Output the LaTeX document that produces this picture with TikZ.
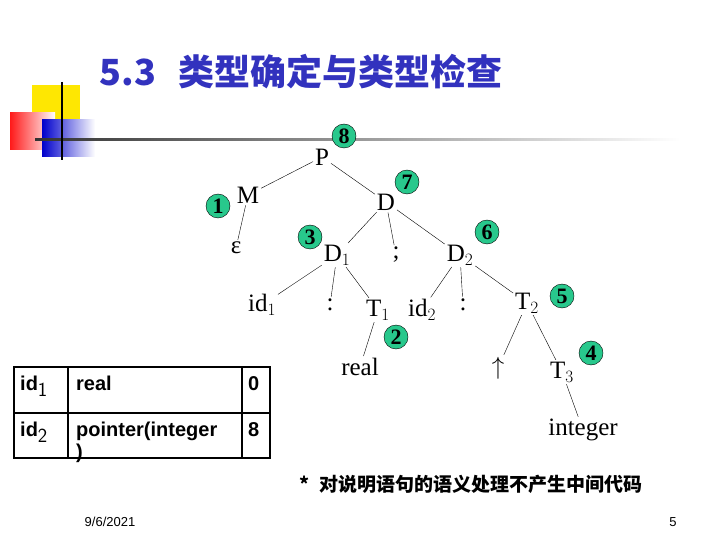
\documentclass[tikz,border=0pt]{standalone}
\usepackage{fontspec}
\setmainfont{Liberation Serif}
\newfontfamily\sansf{Liberation Sans}
\newfontfamily\cjk{Noto Sans CJK SC}
\usetikzlibrary{shadings}
\definecolor{ttl}{RGB}{50,50,190}
\definecolor{grn}{RGB}{40,200,140}
\begin{document}
\begin{tikzpicture}[x=1pt,y=-1pt,
  t/.style={font=\fontsize{25}{27}\selectfont, inner sep=1pt},
  num/.style={circle,draw=black,fill=grn,minimum size=24pt,inner sep=0pt,font=\fontsize{22}{22}\selectfont\bfseries},
  e/.style={thin, shorten <=1pt, shorten >=1pt},
  cell/.style={font=\sansf\bfseries\fontsize{20}{22}\selectfont, anchor=north west, inner sep=0pt}]
\useasboundingbox (0,0) rectangle (720,540);
% logo
\fill[yellow!90!orange] (32,85) rectangle (80,120);
\shade[left color=red!90, right color=white] (10,113) rectangle (55,150);
\shade[left color=blue!80!black, right color=white] (42,120) rectangle (95,157);
\shade[left color=black!80, right color=white] (35,139) rectangle (680,141);
\draw[line width=1.2pt] (62,82) -- (62,160);
% title
\node[font=\cjk\bfseries\fontsize{36}{38}\selectfont, text=ttl, anchor=west] (title) at (96,72) {5.3\hspace{22pt}类型确定与类型检查};
% tree
\node[t] (P) at (322,157) {P};
\node[t] (M) at (248,195) {M};
\node[t] (D) at (386,202) {D};
\node[t] (eps) at (236,248) {ε};
\node[t] (D1) at (337,255) {D$_1$};
\node[t] (semi) at (396,255) {;};
\node[t] (D2) at (460,255) {D$_2$};
\node[t] (id1) at (262,305) {id$_1$};
\node[t] (c1) at (330,305) {:};
\node[t] (T1) at (378,310) {T$_1$};
\node[t] (id2) at (422,310) {id$_2$};
\node[t] (c2) at (463,305) {:};
\node[t] (T2) at (527,303) {T$_2$};
\node[t] (real) at (360,367) {real};
\node[t] (up) at (498,368) {$\uparrow$};
\node[t] (T3) at (562,372) {T$_3$};
\node[t] (int) at (583,430) {integer};
\draw[e] (P) -- (M); \draw[e] (P) -- (D);
\draw[e] (M) -- (eps);
\draw[e] (D) -- (D1); \draw[e] (D) -- (semi); \draw[e] (D) -- (D2);
\draw[e] (D1) -- (id1); \draw[e] (D1) -- (c1); \draw[e] (D1) -- (T1);
\draw[e] (D2) -- (id2); \draw[e] (D2) -- (c2); \draw[e] (D2) -- (T2);
\draw[e] (T1) -- (real);
\draw[e] (T2) -- (up); \draw[e] (T2) -- (T3);
\draw[e] (T3) -- (int);
\node[num] (n8) at (344,136) {8};
\node[num] (n1) at (218,206) {1};
\node[num] (n7) at (407,182) {7};
\node[num] (n3) at (310,237) {3};
\node[num] (n6) at (487,232) {6};
\node[num] (n5) at (562,296) {5};
\node[num] (n2) at (396,337) {2};
\node[num] (n4) at (591,353) {4};
% table
\draw[line width=2pt] (14,367) rectangle (270,458);
\draw[line width=2pt] (14,413) -- (270,413);
\draw[line width=1.2pt] (68,367) -- (68,458);
\draw[line width=1.2pt] (242,367) -- (242,458);
\node[cell] (a1) at (20,376) {id$_{\textsf{\mdseries 1}}$};
\node[cell] (a2) at (76,376) {real};
\node[cell] (a3) at (248,376) {0};
\node[cell] (b1) at (20,422) {id$_{\textsf{\mdseries 2}}$};
\node[cell,align=left] (b2) at (76,422) {pointer(integer\\)};
\node[cell] (b3) at (248,422) {8};
% footer
\node[font=\cjk\bfseries\fontsize{19}{22}\selectfont, anchor=west] (note) at (296,484) {*\hspace{10pt}对说明语句的语义处理不产生中间代码};
\node[font=\sansf\fontsize{13}{15}\selectfont] (date) at (110,522) {9/6/2021};
\node[font=\sansf\fontsize{13}{15}\selectfont] (pg) at (673,522) {5};
\end{tikzpicture}
\end{document}
